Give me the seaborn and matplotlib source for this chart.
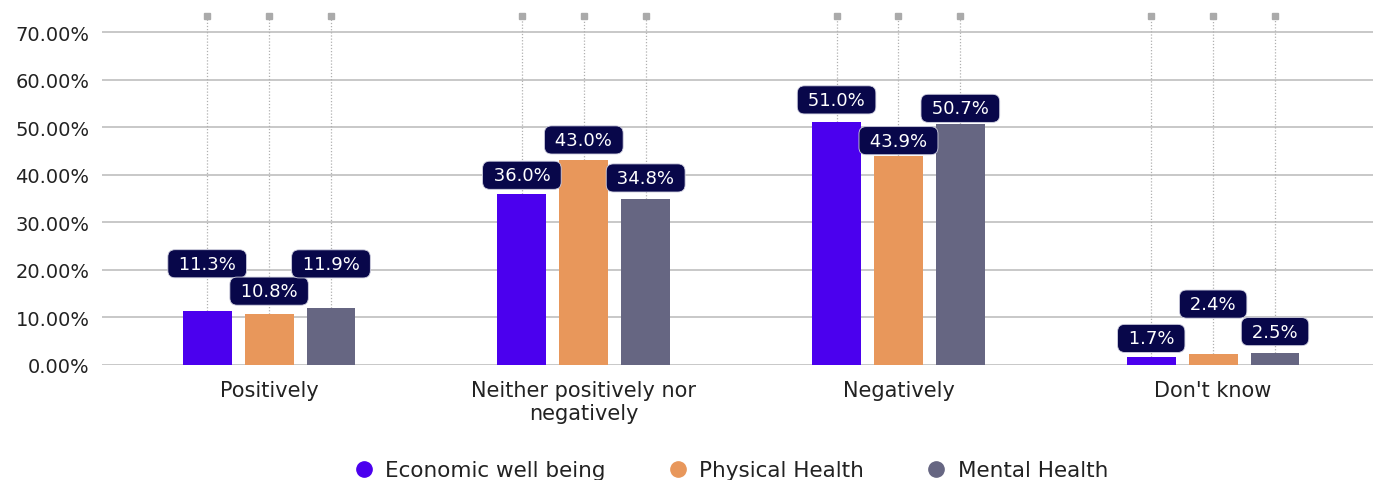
import matplotlib
matplotlib.use("Agg")
import matplotlib.pyplot as plt
from matplotlib.lines import Line2D
import seaborn as sns
import pandas as pd

# data
categories = ["Positively", "Neither positively nor\nnegatively", "Negatively", "Don't know"]
series = ["Economic well being", "Physical Health", "Mental Health"]
economic = [11.3, 36.0, 51.0, 1.7]
physical = [10.8, 43.0, 43.9, 2.4]
mental = [11.9, 34.8, 50.7, 2.5]
y_ticks = [0, 10, 20, 30, 40, 50, 60, 70]

colors = ["#4B00EE", "#E8975B", "#666682"]
box_color = "#08074A"

rows = []
for s, vals in zip(series, [economic, physical, mental]):
    for c, v in zip(categories, vals):
        rows.append({"category": c, "series": s, "value": v})
df = pd.DataFrame(rows)

sns.set_style("white")
plt.rcParams["font.family"] = ["DejaVu Sans"]

fig = plt.figure(figsize=(13.73, 4.81), dpi=100)
ax = fig.add_axes([102 / 1373, 115 / 481, 1 - 102 / 1373, 366 / 481])

sns.barplot(data=df, x="category", y="value", hue="series", order=categories,
            hue_order=series, palette=colors, width=0.59, gap=0.21,
            saturation=1, legend=False, linewidth=0, ax=ax, zorder=3)

ax.set_ylim(0, 76.94)
ax.set_xlim(-0.531, 3.508)
ax.set_yticks(y_ticks)
ax.set_yticklabels([f"{t:.2f}%" for t in y_ticks], fontsize=14, color="#222222")
ax.tick_params(axis="y", length=0, pad=9)
ax.tick_params(axis="x", length=0, pad=11, labelsize=15, labelcolor="#222222")
ax.set_xlabel("")
ax.set_ylabel("")
for sp in ax.spines.values():
    sp.set_visible(False)
ax.yaxis.grid(True, color="#c4c4c4", linewidth=1.3)
ax.set_axisbelow(True)

# gap (px) between bar top and label box, per category / series
gaps = [[35, 10, 32], [6, 8, 9], [10, 3, 3], [6, 37, 9]]
top = 73.4
for j, cont in enumerate(ax.containers):
    for i, bar in enumerate(cont):
        x = bar.get_x() + bar.get_width() / 2
        h = bar.get_height()
        ax.vlines(x, h, top, colors="#b0b0b0", linestyles=(0, (1, 1.5)),
                  linewidth=0.9, zorder=2)
        ax.plot([x], [top], marker="s", markersize=4.5, color="#aaaaaa",
                clip_on=False, zorder=2)
        off = (gaps[i][j] + 12.5) * 0.72
        ax.annotate(f" {h:.1f}% ", (x, h), xytext=(0, off),
                    textcoords="offset points", ha="center", va="center",
                    fontsize=13, color="white", zorder=6,
                    bbox=dict(boxstyle="round,pad=0.28,rounding_size=0.4",
                              fc=box_color, ec="#d0d0e0", lw=0.6))

handles = [Line2D([], [], marker="o", linestyle="", markersize=11,
                  markerfacecolor=c, markeredgecolor=c) for c in colors]
fig.legend(handles, series, loc="center", bbox_to_anchor=(0.532, 0.02),
           ncol=3, frameon=False, fontsize=15.5, handlelength=1.0,
           handletextpad=0.5, columnspacing=2.85, labelcolor="#222222")

fig.savefig("out.png", dpi=100)
